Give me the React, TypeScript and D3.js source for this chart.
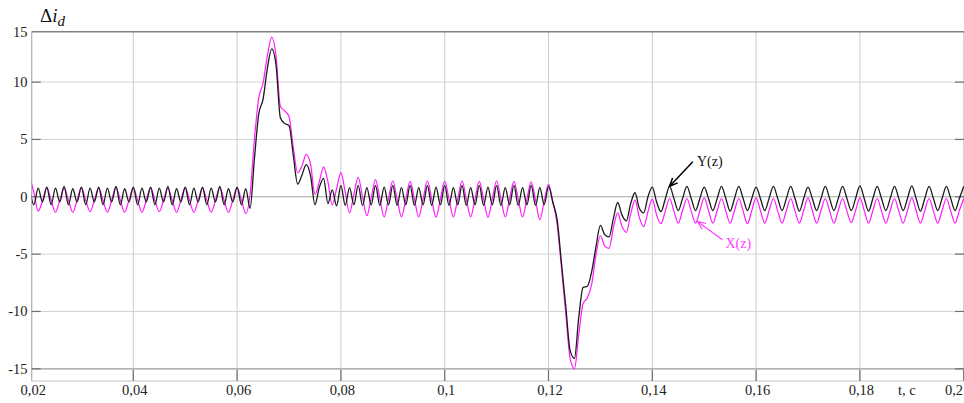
import React from "react";
import * as d3 from "d3";

// ---- data ----
// sample grid: t = T0 + i * DT  (quarter period of the 300 Hz ripple)
const T0 = 0.02;
const DT = 1 / 1200;

// X(z) – magenta series, one row = one 300 Hz period (4 samples)
const xzValues: number[] = [
  1.8, 0.4, -1.25, -0.35,
  0.8, -0.3, -1.35, -0.3,
  0.75, -0.3, -1.35, -0.3,
  0.8, -0.3, -1.3, -0.3,
  0.75, -0.3, -1.35, -0.3,
  0.8, -0.3, -1.35, -0.3,
  0.75, -0.3, -1.35, -0.3,
  0.8, -0.3, -1.3, -0.3,
  0.75, -0.3, -1.35, -0.3,
  0.8, -0.3, -1.35, -0.3,
  0.75, -0.3, -1.35, -0.3,
  0.8, -0.3, -1.35, -0.3,
  0.8, -0.3, -1.45, 0.2,
  5.0, 8.6, 9.9, 12.3,
  13.9, 12.3, 7.9, 7.5,
  7.0, 4.3, 2.1, 2.7,
  3.7, 2.8, 0.2, 1.3,
  2.6, 1.3, -0.7, 0.7,
  2.1, 0.4, -1.4, 0.2,
  1.7, 0.0, -1.65, -0.1,
  1.5, -0.15, -1.75, -0.15,
  1.4, -0.2, -1.75, -0.2,
  1.35, -0.2, -1.75, -0.2,
  1.4, -0.2, -1.8, -0.2,
  1.35, -0.2, -1.75, -0.2,
  1.4, -0.2, -1.75, -0.2,
  1.35, -0.2, -1.8, -0.2,
  1.4, -0.2, -1.75, -0.2,
  1.35, -0.2, -1.75, -0.2,
  1.3, -0.3, -2.0, -0.4,
  1.1, -0.4, -2.4, -6.2,
  -10.2, -14.1, -15.0, -12.0,
  -9.3, -8.8, -7.6, -5.0,
  -3.4, -4.3, -4.5, -2.7,
  -1.4, -2.6, -3.1, -1.5,
  -0.3, -1.8, -2.6, -1.3,
  -0.2, -1.6, -2.35, -1.25,
  -0.15, -1.25, -2.3, -1.2,
  -0.15, -1.25, -2.3, -1.2,
  -0.1, -1.2, -2.3, -1.2,
  -0.15, -1.25, -2.3, -1.2,
  -0.15, -1.25, -2.35, -1.2,
  -0.1, -1.2, -2.3, -1.2,
  -0.15, -1.25, -2.3, -1.2,
  -0.15, -1.25, -2.3, -1.2,
  -0.1, -1.2, -2.3, -1.2,
  -0.15, -1.25, -2.3, -1.2,
  -0.15, -1.25, -2.25, -1.2,
  -0.1, -1.2, -2.3, -1.2,
  -0.15, -1.25, -2.3, -1.2,
  -0.15, -1.25, -2.3, -1.2,
  -0.1, -1.2, -2.3, -1.2,
  -0.15, -1.25, -2.3, -1.2,
  -0.15, -1.25, -2.3, -1.2,
  -0.15,
];

// Y(z) – black series
const yzValues: number[] = [
  0.85, -0.7, 0.75, -0.45,
  0.85, -0.7, 0.75, -0.45,
  0.9, -0.7, 0.7, -0.45,
  0.85, -0.7, 0.75, -0.45,
  0.85, -0.7, 0.75, -0.45,
  0.9, -0.7, 0.7, -0.45,
  0.85, -0.7, 0.75, -0.45,
  0.85, -0.7, 0.75, -0.45,
  0.9, -0.7, 0.7, -0.45,
  0.85, -0.7, 0.75, -0.45,
  0.85, -0.7, 0.75, -0.45,
  0.9, -0.7, 0.7, -0.45,
  0.85, -0.7, 0.7, -1.0,
  3.3, 7.2, 8.5, 11.2,
  12.9, 11.5, 6.9, 6.4,
  6.2, 3.6, 1.1, 1.9,
  2.8, 1.8, -0.7, 0.8,
  1.6, -0.6, 0.6, -0.8,
  1.0, -0.75, 0.8, -0.7,
  1.0, -0.75, 0.8, -0.7,
  1.0, -0.75, 0.85, -0.7,
  1.0, -0.75, 0.8, -0.7,
  1.0, -0.75, 0.8, -0.7,
  1.0, -0.75, 0.85, -0.7,
  1.0, -0.75, 0.8, -0.7,
  1.0, -0.75, 0.8, -0.7,
  1.0, -0.75, 0.85, -0.7,
  1.0, -0.75, 0.8, -0.7,
  1.0, -0.75, 0.8, -0.7,
  1.0, -0.75, 0.8, -0.7,
  0.9, -0.5, -2.0, -5.8,
  -9.6, -13.4, -14.1, -10.5,
  -7.9, -7.8, -6.5, -4.3,
  -2.5, -3.3, -3.5, -1.9,
  -0.5, -1.6, -2.1, -0.6,
  0.35, -1.0, -1.4, 0.0,
  0.85, -0.45, -1.3, -0.2,
  0.9, -0.15, -1.2, -0.15,
  0.9, -0.15, -1.2, -0.15,
  0.85, -0.15, -1.2, -0.15,
  0.9, -0.15, -1.25, -0.15,
  0.9, -0.15, -1.2, -0.15,
  0.85, -0.15, -1.2, -0.15,
  0.9, -0.15, -1.2, -0.15,
  0.9, -0.15, -1.25, -0.15,
  0.85, -0.15, -1.2, -0.15,
  0.9, -0.15, -1.2, -0.15,
  0.9, -0.15, -1.2, -0.15,
  0.95, -0.15, -1.25, -0.15,
  0.9, -0.15, -1.2, -0.15,
  0.9, -0.15, -1.2, -0.15,
  0.95, -0.15, -1.25, -0.15,
  0.9, -0.15, -1.2, -0.15,
  0.9, -0.15, -1.2, -0.15,
  0.9,
];

const xTicks = [0.02, 0.04, 0.06, 0.08, 0.1, 0.12, 0.14, 0.16, 0.18, 0.2];
const xTickLabels = ["0,02", "0,04", "0,06", "0,08", "0,1", "0,12", "0,14", "0,16", "0,18", "0,2"];
const yTicks = [-15, -10, -5, 0, 5, 10];
const yTickLabels = ["-15", "-10", "-5", "0", "5", "10"];
const yTopLabel = "15";

// annotation anchors (data coordinates)
const yzLabel = { text: "Y(z)", t: 0.1486, v: 2.7, fromT: 0.1478, fromV: 3.05, toT: 0.1433, toV: 0.9 };
const xzLabel = { text: "X(z)", t: 0.1541, v: -4.45, fromT: 0.1535, fromV: -3.75, toT: 0.1487, toV: -2.15 };

const W = 964;
const H = 403;
const plotLeft = 31.7;
const plotTop = 31.7;
const plotBottom = 381;
const plotRight = 964;
const FONT = "'Liberation Serif', 'Times New Roman', serif";

export default function App() {
  const x = d3.scaleLinear().domain([0.02, 0.2]).range([29.5, 963.7]);
  const y = d3.scaleLinear().domain([-15, 10]).range([368.8, 82.1]);

  const toPts = (vals: number[]) => vals.map((v, i) => [T0 + i * DT, v] as [number, number]);
  const line = d3
    .line<[number, number]>()
    .x((d) => x(d[0]))
    .y((d) => y(d[1]))
    .curve(d3.curveMonotoneX);

  const arrow = (x1: number, y1: number, x2: number, y2: number, len: number) => {
    const ang = Math.atan2(y1 - y2, x1 - x2);
    const a1 = ang + 0.4;
    const a2 = ang - 0.4;
    return `M${x1},${y1}L${x2},${y2}M${x2 + len * Math.cos(a1)},${y2 + len * Math.sin(a1)}L${x2},${y2}L${
      x2 + len * Math.cos(a2)
    },${y2 + len * Math.sin(a2)}`;
  };

  return (
    <svg width={W} height={H} style={{ position: "absolute", left: 0, top: 0, background: "#fff" }}>
      <defs>
        <clipPath id="plotClip">
          <rect x={plotLeft} y={plotTop - 2} width={plotRight - plotLeft} height={plotBottom - plotTop + 2} />
        </clipPath>
      </defs>
      <rect x={0} y={0} width={W} height={H} fill="#fff" />
      {/* vertical grid */}
      {xTicks.slice(1).map((t) => (
        <line key={"vg" + t} x1={x(t)} x2={x(t)} y1={plotTop} y2={plotBottom} stroke="#cccccc" strokeWidth={1} />
      ))}
      {/* horizontal grid */}
      {yTicks.map((v) => (
        <line
          key={"hg" + v}
          x1={plotLeft}
          x2={plotRight}
          y1={y(v)}
          y2={y(v)}
          stroke={v === -15 ? "#9a9a9a" : v === 0 ? "#a6a6a6" : "#d2d2d2"}
          strokeWidth={v === -15 ? 1.3 : 1}
        />
      ))}
      {/* frame */}
      <line x1={plotLeft} x2={plotRight} y1={plotTop} y2={plotTop} stroke="#808080" strokeWidth={1.5} />
      <line x1={plotLeft} x2={plotRight} y1={plotBottom} y2={plotBottom} stroke="#c4c4c4" strokeWidth={1.2} />
      <line x1={plotLeft} x2={plotLeft} y1={plotTop} y2={plotBottom} stroke="#b4b4b4" strokeWidth={1.3} />
      {/* ticks */}
      {yTicks.map((v) => (
        <line key={"yt" + v} x1={plotLeft} x2={plotLeft + 9} y1={y(v)} y2={y(v)} stroke="#707070" strokeWidth={1.2} />
      ))}
      {yTicks.map((v) => (
        <line key={"yr" + v} x1={plotRight - 9} x2={plotRight} y1={y(v)} y2={y(v)} stroke="#707070" strokeWidth={1.2} />
      ))}
      {xTicks.slice(1).map((t) => (
        <line key={"xt" + t} x1={x(t)} x2={x(t)} y1={plotBottom - 11} y2={plotBottom} stroke="#707070" strokeWidth={1.2} />
      ))}
      {/* series */}
      <g clipPath="url(#plotClip)">
        <path d={line(toPts(xzValues)) || ""} fill="none" stroke="#ff1aff" strokeWidth={1.2} />
        <path d={line(toPts(yzValues)) || ""} fill="none" stroke="#1a1a1a" strokeWidth={1.3} />
      </g>
      {/* tick labels */}
      {xTicks.map((t, i) => {
        const last = i === xTicks.length - 1;
        return (
          <text
            key={"xl" + t}
            x={last ? W - 1 : Math.max(x(t), plotLeft) + 1.5}
            y={395}
            textAnchor={last ? "end" : "middle"}
            fontFamily={FONT}
            fontSize={14.5}
            fill="#222"
          >
            {xTickLabels[i]}
          </text>
        );
      })}
      {yTicks.map((v, i) => (
        <text key={"yl" + v} x={27.5} y={y(v)} dy="0.33em" textAnchor="end" fontFamily={FONT} fontSize={14.5} fill="#222">
          {yTickLabels[i]}
        </text>
      ))}
      <text x={27.5} y={plotTop + 1} dy="0.33em" textAnchor="end" fontFamily={FONT} fontSize={14.5} fill="#222">
        {yTopLabel}
      </text>
      <text x={898} y={395} fontFamily={FONT} fontSize={14.5} fill="#222">
        t, c
      </text>
      {/* axis title */}
      <text x={40} y={22} fontFamily={FONT} fontSize={19} fill="#111">
        Δ<tspan fontStyle="italic">i</tspan>
        <tspan fontStyle="italic" fontSize={15} dy={4}>
          d
        </tspan>
      </text>
      {/* annotations */}
      <path
        d={arrow(x(yzLabel.fromT), y(yzLabel.fromV), x(yzLabel.toT), y(yzLabel.toV), 9)}
        fill="none"
        stroke="#000"
        strokeWidth={1.5}
      />
      <text x={x(yzLabel.t)} y={y(yzLabel.v)} fontFamily={FONT} fontSize={14} fill="#111">
        {yzLabel.text}
      </text>
      <path
        d={arrow(x(xzLabel.fromT), y(xzLabel.fromV), x(xzLabel.toT), y(xzLabel.toV), 9)}
        fill="none"
        stroke="#ff40ff"
        strokeWidth={1.2}
      />
      <text x={x(xzLabel.t)} y={y(xzLabel.v)} fontFamily={FONT} fontSize={14} fill="#ff40ff">
        {xzLabel.text}
      </text>
    </svg>
  );
}
